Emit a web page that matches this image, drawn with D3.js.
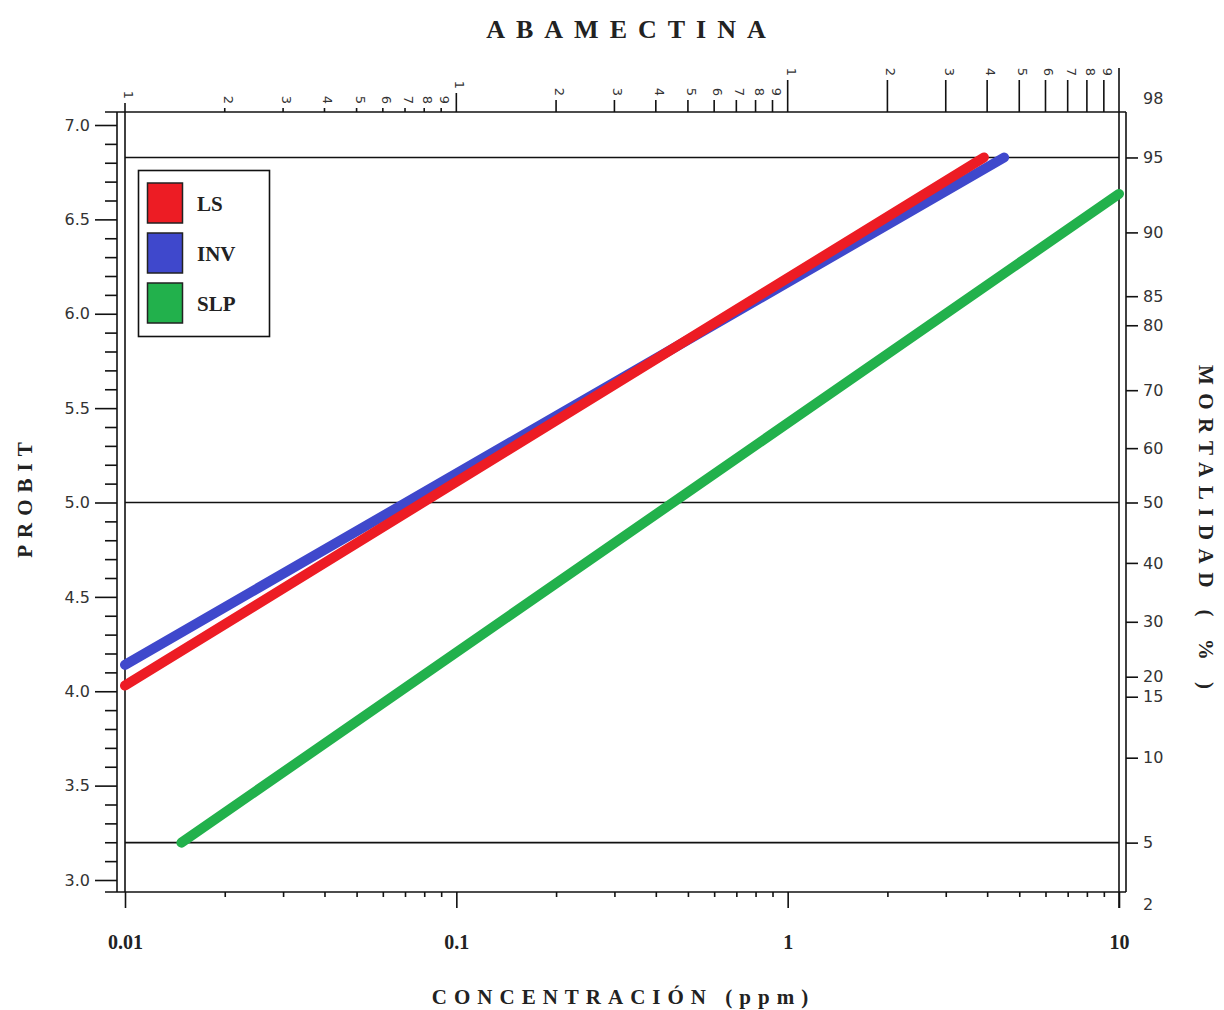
<!DOCTYPE html>
<html>
<head>
<meta charset="utf-8">
<script src="https://cdn.jsdelivr.net/npm/d3@7"></script>
<style>
  body { margin: 0; background: #fff; }
  svg { display: block; }
  .serif { font-family: "Liberation Serif", "DejaVu Serif", serif; font-weight: bold; fill: #222; }
  .sans { font-family: "DejaVu Sans", Verdana, sans-serif; fill: #333; }
</style>
</head>
<body>
<svg id="chart" width="1224" height="1010"></svg>
<script>
// --- data ---
const series = ['LS', 'INV', 'SLP'];
const colors = ['#ed1c24', '#3f48cc', '#22b14c'];
// each probit line is straight: start / end concentration (ppm) and probit value
const concStart = [0.01, 0.01, 0.0148];
const concEnd = [3.91, 4.5, 10];
const probitStart = [4.03, 4.14, 3.198];
const probitEnd = [6.828, 6.828, 6.635];

const probitMajor = [3.0, 3.5, 4.0, 4.5, 5.0, 5.5, 6.0, 6.5, 7.0];
const concMajor = [0.01, 0.1, 1, 10];
const concMajorLabels = ['0.01', '0.1', '1', '10'];
const decades = [0.01, 0.1, 1];
const mantissas = [1, 2, 3, 4, 5, 6, 7, 8, 9];

// mortality axis (right) as drawn: % -> probit position
const mortPct = [2, 5, 10, 15, 20, 30, 40, 50, 60, 70, 80, 85, 90, 95, 98];
const mortProbit = [2.871, 3.198, 3.648, 3.971, 4.077, 4.368, 4.680, 5.0, 5.288, 5.595, 5.939, 6.093, 6.431, 6.828, 7.140];
const mortTicks = [95, 90, 85, 80, 70, 60, 50, 40, 30, 20, 15, 10, 5];
const mortEndLabels = [98, 2];
const refLines = [95, 50, 5];

// --- layout ---
const svg = d3.select('#chart');
const pL = 125, pR = 1119, pT = 112, pB = 892;
const axL = 117, axR = 1126;

const x = d3.scaleLog().domain([0.01, 10]).range([pL, pR]);
const y = d3.scaleLinear().domain([3, 7]).range([880, 125]);
const yMort = d3.scaleLinear().domain(mortPct).range(mortProbit.map(y));

const ink = '#111', sw = 1.6;
const hline = (x1, x2, yy) => svg.append('line').attr('x1', x1).attr('x2', x2).attr('y1', yy).attr('y2', yy)
  .attr('stroke', ink).attr('stroke-width', sw);
const vline = (xx, y1, y2) => svg.append('line').attr('x1', xx).attr('x2', xx).attr('y1', y1).attr('y2', y2)
  .attr('stroke', ink).attr('stroke-width', sw);
// one axis call per group, so that tick sets don't replace each other
const axisGroup = (tr, axis) => {
  const g = svg.append('g').attr('transform', tr).call(axis);
  g.select('.domain').remove();
  g.selectAll('line').attr('stroke', ink).attr('stroke-width', sw);
  return g;
};

// frame
hline(105, axR, pT);
hline(105, axR, pB);
vline(axL, pT, pB);
vline(axR, pT, pB);
vline(pL, pT, pB);
vline(pR, pT, pB);

// reference lines 95 / 50 / 5 %
refLines.forEach(p => hline(pL, pR, yMort(p)));

// left probit axis
const minor = d3.range(30, 71).map(d => d / 10).filter(v => !probitMajor.includes(v));
axisGroup(`translate(${axL},0)`, d3.axisLeft(y).tickValues(minor).tickSize(12).tickFormat(''));
axisGroup(`translate(${axL},0)`, d3.axisLeft(y).tickValues(probitMajor).tickSize(22).tickPadding(5).tickFormat(d3.format('.1f')))
  .selectAll('text').attr('class', 'sans').style('font-size', '16px');

// bottom concentration axis
const concMinor = [];
decades.forEach(d => mantissas.slice(1).forEach(m => concMinor.push(+(m * d).toPrecision(3))));
axisGroup(`translate(0,${pB})`, d3.axisBottom(x).tickValues(concMinor).tickSize(5).tickFormat(''));
axisGroup(`translate(0,${pB})`, d3.axisBottom(x).tickValues(concMajor).tickSize(16).tickFormat((d, i) => concMajorLabels[i]))
  .selectAll('text').attr('class', 'serif').style('font-size', '20px').attr('y', 57).attr('dy', null);

// top axis: mantissa ticks, length grows per decade
const minorLen = [4, 12, 32], startLen = [9, 19, 32];
const topTicks = [];
decades.forEach((d, k) => mantissas.forEach(m => topTicks.push({ v: m * d, m, len: m === 1 ? startLen[k] : minorLen[k] })));
const gT = svg.append('g');
gT.selectAll('line').data(topTicks).join('line')
  .attr('x1', d => x(d.v)).attr('x2', d => x(d.v))
  .attr('y1', pT).attr('y2', d => pT - d.len)
  .attr('stroke', ink).attr('stroke-width', sw);
vline(x(10), pT, pT - 44);
gT.selectAll('text').data(topTicks).join('text')
  .attr('class', 'sans').style('font-size', '13px')
  .attr('text-anchor', 'middle')
  .attr('transform', d => `translate(${x(d.v) - 1},${pT - d.len - 8}) rotate(90)`)
  .text(d => d.m);
vline(x(10), pB, pB + 16);

// right mortality axis
axisGroup(`translate(${axR},0)`, d3.axisRight(yMort).tickValues(mortTicks).tickSize(12).tickPadding(5))
  .selectAll('text').attr('class', 'sans').style('font-size', '16px');
axisGroup(`translate(${axR},0)`, d3.axisRight(yMort).tickValues(mortEndLabels).tickSize(0).tickPadding(17))
  .selectAll('text').attr('class', 'sans').style('font-size', '16px');

// probit lines (blue under red)
const order = [1, 0, 2];
svg.append('g').selectAll('line').data(order).join('line')
  .attr('x1', i => x(concStart[i])).attr('y1', i => y(probitStart[i]))
  .attr('x2', i => x(concEnd[i])).attr('y2', i => y(probitEnd[i]))
  .attr('stroke', i => colors[i]).attr('stroke-width', 10).attr('stroke-linecap', 'round');

// legend
const lg = svg.append('g');
lg.append('rect').attr('x', 138.5).attr('y', 170.5).attr('width', 131).attr('height', 166)
  .attr('fill', '#fff').attr('stroke', ink).attr('stroke-width', sw);
series.forEach((s, i) => {
  lg.append('rect').attr('x', 147.5).attr('y', 183 + i * 50).attr('width', 35).attr('height', 40)
    .attr('fill', colors[i]).attr('stroke', '#222').attr('stroke-width', 1.5);
  lg.append('text').attr('class', 'serif').style('font-size', '21px')
    .attr('x', 197).attr('y', 211 + i * 50).text(s);
});

// titles
const spaced = (txt, xx, yy, size, ls, rot) => {
  const t = svg.append('text').attr('class', 'serif').style('font-size', size + 'px')
    .style('letter-spacing', ls + 'px').attr('text-anchor', 'middle').text(txt);
  if (rot) t.attr('transform', `translate(${xx},${yy}) rotate(${rot}) translate(${ls / 2},0)`);
  else t.attr('x', xx + ls / 2).attr('y', yy);
  return t;
};
spaced('ABAMECTINA', 626, 38, 26, 11, 0);
spaced('PROBIT', 32, 500, 21, 7, -90);
spaced('MORTALIDAD ( % )', 1199, 527, 21, 8.5, 90);
spaced('CONCENTRACIÓN (ppm)', 620, 1004, 21, 7, 0);
</script>
</body>
</html>
